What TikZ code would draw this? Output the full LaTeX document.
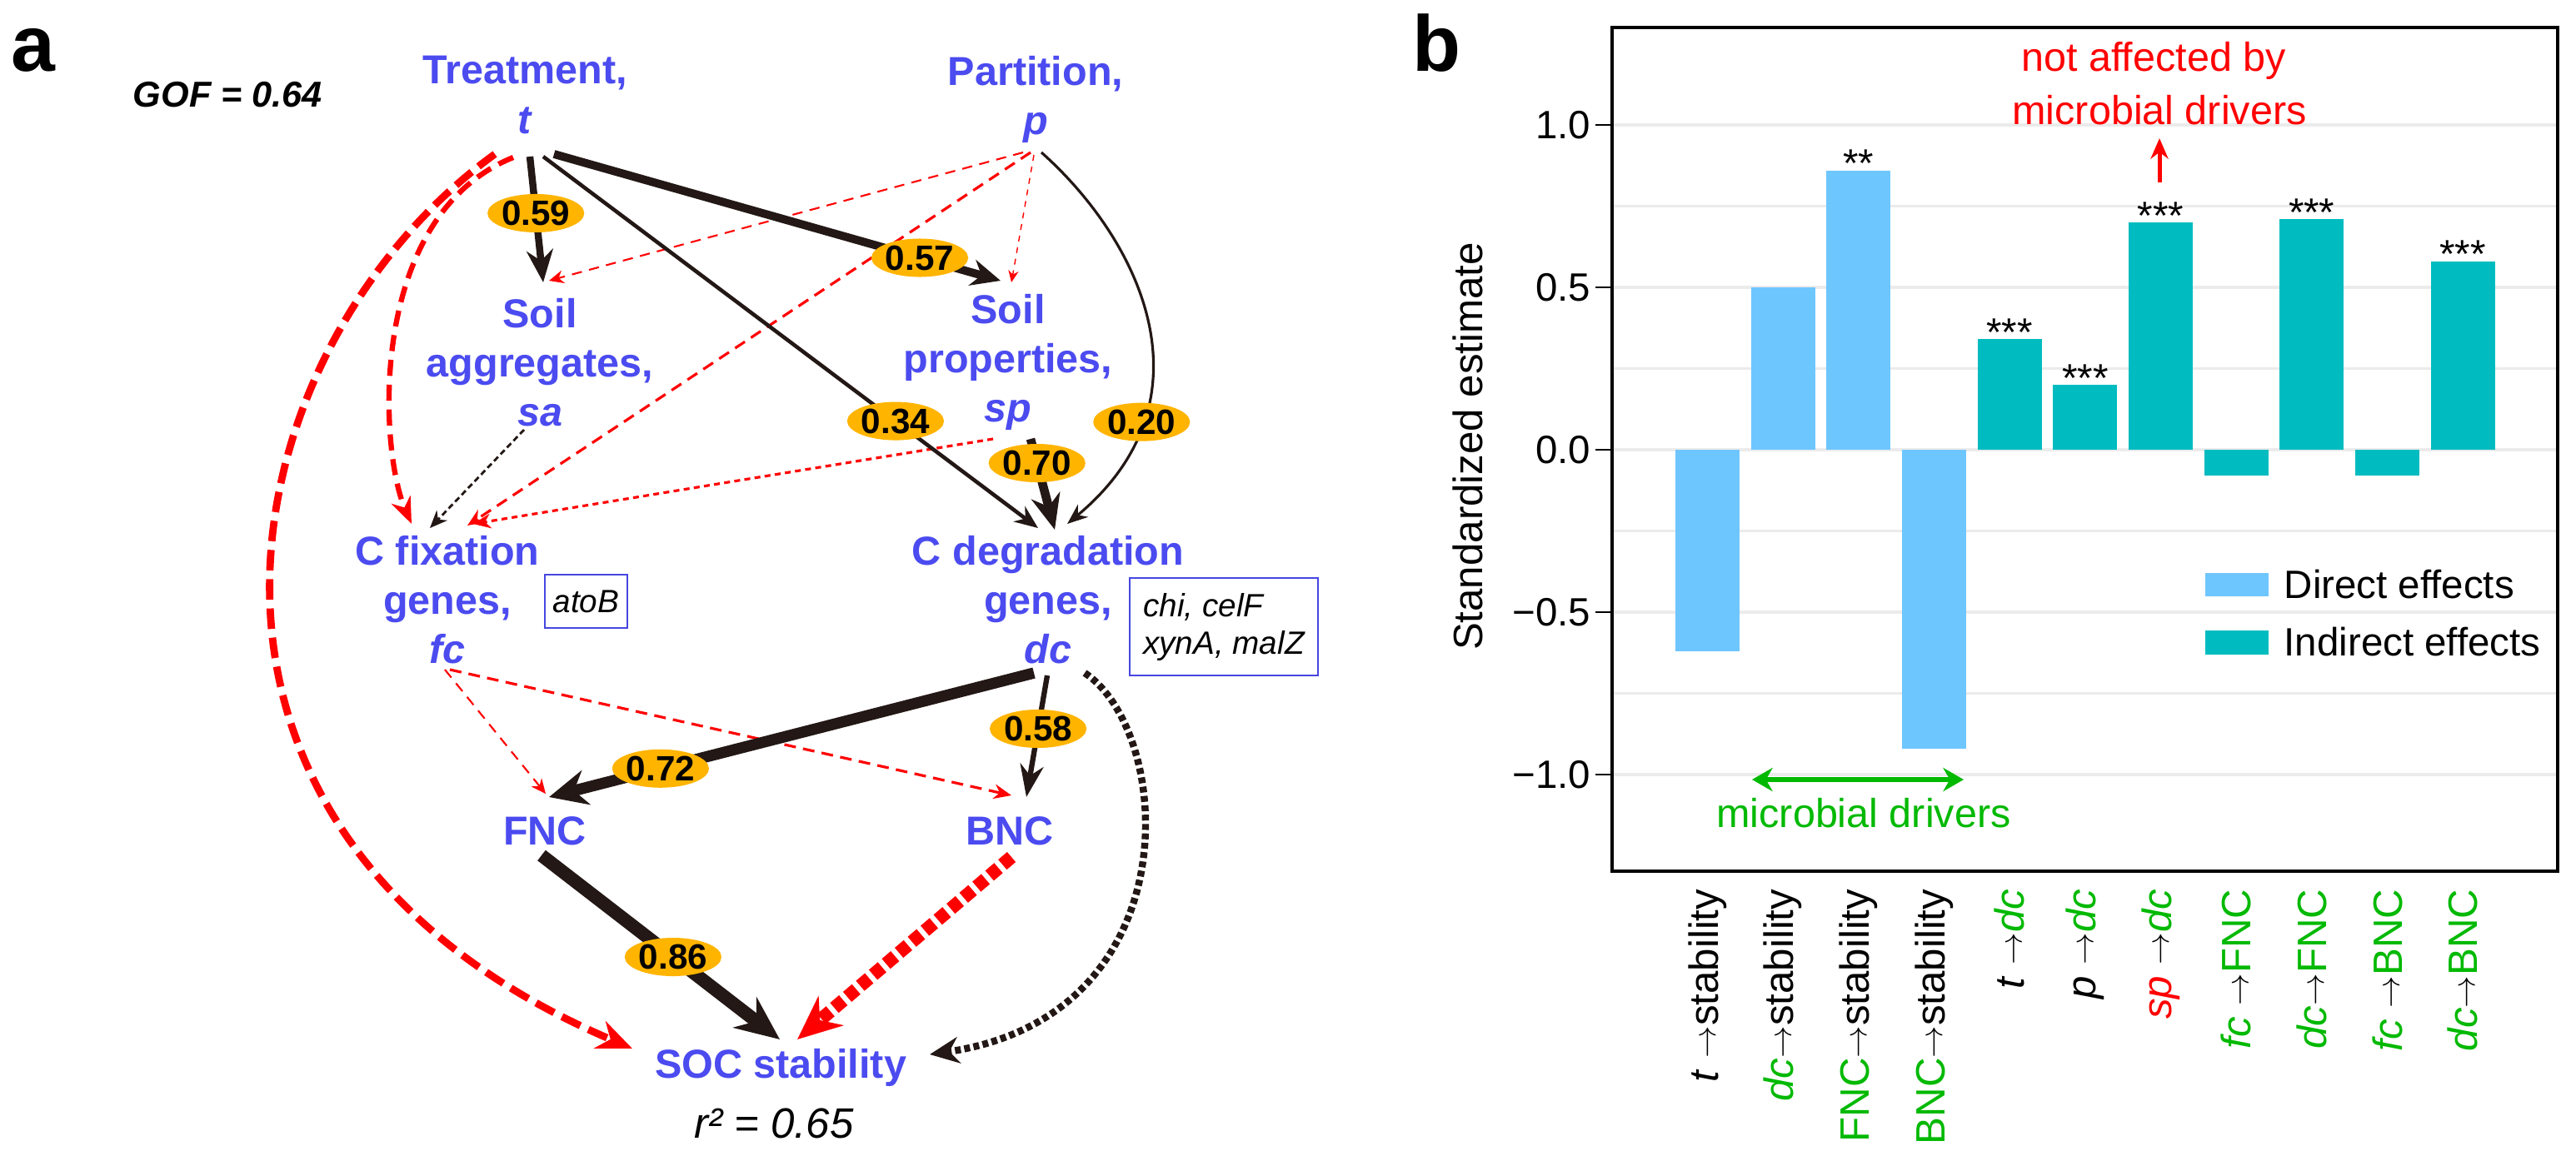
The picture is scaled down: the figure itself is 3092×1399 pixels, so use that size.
\documentclass[tikz,border=0pt]{standalone}
\usepackage{fontspec}
\setmainfont{Liberation Sans}
\usetikzlibrary{arrows.meta,shapes.geometric}
\definecolor{nodeblue}{RGB}{75,75,240}
\definecolor{boxblue}{RGB}{70,70,225}
\definecolor{ink}{RGB}{35,24,21}
\definecolor{ovalc}{RGB}{255,180,0}
\definecolor{dred}{RGB}{255,0,0}
\definecolor{lblue}{RGB}{110,198,255}
\definecolor{tealbar}{RGB}{0,188,192}
\definecolor{gridg}{RGB}{235,235,235}
\definecolor{lg}{RGB}{0,185,0}
\newcommand{\myarr}{\raisebox{0.9pt}{\fontsize{10.5}{10.5}\selectfont$\rightarrow$}}
\begin{document}
\begin{tikzpicture}[x=0.01cm,y=-0.01cm,
  lab/.style={text=nodeblue, font=\fontsize{13.8}{16.8}\selectfont\bfseries, align=center, inner sep=0},
  coef/.style={ellipse, fill=ovalc, minimum width=0.94cm, minimum height=0.46cm, inner sep=0, font=\fontsize{12}{12}\selectfont\bfseries},
  genebox/.style={draw=boxblue, line width=0.7pt, inner sep=0, font=\fontsize{11}{12.8}\selectfont\itshape},
  panel/.style={font=\fontsize{27}{27}\selectfont\bfseries, inner sep=0, anchor=base},
  bk/.style={draw=ink},
  rd/.style={draw=dred},
  xl/.style={rotate=90, anchor=east, inner sep=0, font=\fontsize{14}{14}\selectfont},
  bt/.style={font=\fontsize{13.5}{13.5}\selectfont}
]
\fill[white] (0,0) rectangle (3092,1399);
\useasboundingbox (0,0) rectangle (3092,1399);

% ---------------- panel a ----------------
\node[panel] (pa) at (40,85) {a};
\node[anchor=base west, inner sep=0, font=\fontsize{12.3}{12.3}\selectfont\bfseries\itshape] (gof) at (159,128) {GOF = 0.64};

\node[lab] (T) at (630,114) {Treatment,\\\textit{t}};
\node[lab] (P) at (1243,119) {Partition,\\\textit{p}};
\node[lab] (SA) at (648,435) {Soil\\aggregates,\\\textit{sa}};
\node[lab] (SP) at (1210,435) {Soil\\properties,\\\textit{sp}};
\node[lab] (FC) at (537,720) {C fixation\\genes,\\\textit{fc}};
\node[lab] (DC) at (1258,720) {C degradation\\genes,\\\textit{dc}};
\node[lab, anchor=base] (FNC) at (654,1014) {FNC};
\node[lab, anchor=base] (BNC) at (1212,1014) {BNC};
\node[lab, anchor=base] (SOC) at (937,1294) {SOC stability};
\node[anchor=base, inner sep=0, font=\fontsize{14.5}{14.5}\selectfont\itshape] (r2) at (929,1366) {r² = 0.65};

\node[genebox, minimum width=0.99cm, minimum height=0.64cm] (fcbox) at (703.5,722) {atoB};
\node[genebox, align=left, minimum width=2.26cm, minimum height=1.17cm] (dcbox) at (1469,752.5) {chi, celF\\xynA, malZ};

% ports
\coordinate (T-sa) at (636,188);  \coordinate (SA-t) at (652,339);
\coordinate (T-sp) at (665,185);  \coordinate (SP-t) at (1201,337);
\coordinate (T-dc) at (652,188);  \coordinate (DC-t) at (1246,634);
\coordinate (T-fc) at (616,189);  \coordinate (FC-t) at (494,629);
\coordinate (T-soc) at (594,185); \coordinate (SOC-t) at (759,1259);
\coordinate (P-sa) at (1228,183); \coordinate (SA-p) at (659,337);
\coordinate (P-fc) at (1237,183); \coordinate (FC-p) at (561,631);
\coordinate (P-sp) at (1241,186); \coordinate (SP-p) at (1214,339);
\coordinate (P-dc) at (1250,183); \coordinate (DC-p) at (1281,629);
\coordinate (SP-dc) at (1237,527); \coordinate (DC-sp) at (1266,636);
\coordinate (SP-fc) at (1192,527); \coordinate (FC-sp) at (568,629);
\coordinate (SA-fc) at (629,516); \coordinate (FC-sa) at (516,634);
\coordinate (FC-fnc) at (534,804); \coordinate (FNC-fc) at (655,953);
\coordinate (FC-bnc) at (540,804); \coordinate (BNC-fc) at (1214,955);
\coordinate (DC-fnc) at (1241,808); \coordinate (FNC-dc) at (659,957);
\coordinate (DC-bnc) at (1257,811); \coordinate (BNC-dc) at (1232,957);
\coordinate (DC-soc) at (1302,808); \coordinate (SOC-dc) at (1116,1266);
\coordinate (FNC-soc) at (650,1027); \coordinate (SOC-fnc) at (936,1248);
\coordinate (BNC-soc) at (1214,1029); \coordinate (SOC-bnc) at (957,1248);

% dashed (non-significant / negative) paths
\draw[rd, line width=2.5pt, dash pattern=on 7pt off 3pt, -{Stealth[length=12pt,width=10pt]}]
  (T-soc) .. controls (270,420) and (150,1000) .. (SOC-t);
\draw[rd, line width=1.8pt, dash pattern=on 5.5pt off 3pt, -{Stealth[length=9pt,width=7pt]}]
  (T-fc) .. controls (440,260) and (455,540) .. (FC-t);
\draw[rd, line width=0.6pt, dash pattern=on 3.5pt off 2.5pt, -{Stealth[length=5pt,width=4.5pt]}] (P-sa) -- (SA-p);
\draw[rd, line width=0.9pt, dash pattern=on 4pt off 2.5pt, -{Stealth[length=6pt,width=5pt]}] (P-fc) -- (FC-p);
\draw[rd, line width=0.4pt, dash pattern=on 2pt off 2pt, -{Stealth[length=4pt,width=3.5pt]}] (P-sp) -- (SP-p);
\draw[rd, line width=0.9pt, dash pattern=on 2pt off 1.5pt, -{Stealth[length=6pt,width=5pt]}] (SP-fc) -- (FC-sp);
\draw[bk, line width=0.8pt, dash pattern=on 2pt off 1.2pt, -{Stealth[length=6pt,width=5pt]}] (SA-fc) -- (FC-sa);
\draw[rd, line width=0.6pt, dash pattern=on 3.5pt off 2.5pt, -{Stealth[length=5pt,width=4.5pt]}] (FC-fnc) -- (FNC-fc);
\draw[rd, line width=0.9pt, dash pattern=on 4pt off 2.5pt, -{Stealth[length=6pt,width=5pt]}] (FC-bnc) -- (BNC-fc);
\draw[bk, line width=2.4pt, dash pattern=on 2pt off 1.2pt, -{Stealth[length=10pt,width=9pt]}]
  (DC-soc) .. controls (1410,880) and (1430,1220) .. (SOC-dc);
\draw[rd, line width=4.5pt, dash pattern=on 4pt off 1.8pt, -{Stealth[length=15pt,width=13pt]}] (BNC-soc) -- (SOC-bnc);

% solid (significant) paths with coefficients
\draw[bk, line width=2.4pt, -{Stealth[length=11pt,width=9pt]}] (T-sa) -- node[coef, pos=0.45] (c1) {0.59} (SA-t);
\draw[bk, line width=2.8pt, -{Stealth[length=10pt,width=9pt]}] (T-sp) -- node[coef, pos=0.819] (c2) {0.57} (SP-t);
\draw[bk, line width=1.3pt, -{Stealth[length=8pt,width=6.5pt]}] (T-dc) -- node[coef, pos=0.712] (c3) {0.34} (DC-t);
\draw[bk, line width=0.9pt, -{Stealth[length=7pt,width=5.5pt]}]
  (P-dc) .. controls (1370,290) and (1460,480) .. node[coef, pos=0.74] (c4) {0.20} (DC-p);
\draw[bk, line width=3pt, -{Stealth[length=12pt,width=10pt]}] (SP-dc) -- node[coef, pos=0.266] (c5) {0.70} (DC-sp);
\draw[bk, line width=3.8pt, -{Stealth[length=13pt,width=12pt]}] (DC-fnc) -- node[coef, pos=0.77] (c6) {0.72} (FNC-dc);
\draw[bk, line width=1.8pt, -{Stealth[length=11pt,width=8pt]}] (DC-bnc) -- node[coef, pos=0.438] (c7) {0.58} (BNC-dc);
\draw[bk, line width=4.5pt, -{Stealth[length=15pt,width=13pt]}] (FNC-soc) -- node[coef, pos=0.552] (c8) {0.86} (SOC-fnc);

% ---------------- panel b ----------------
\node[panel] (pb) at (1724,85) {b};
\foreach \v in {-1,-0.75,...,1.01} {
  \draw[gridg, line width=0.9pt] (1935,{540-390*\v}) -- (3070,{540-390*\v});
}
\foreach \i/\v/\c in {0/-0.62/lblue,1/0.50/lblue,2/0.86/lblue,3/-0.92/lblue,4/0.34/tealbar,5/0.20/tealbar,6/0.70/tealbar,7/-0.08/tealbar,8/0.71/tealbar,9/-0.08/tealbar,10/0.58/tealbar} {
  \fill[\c] ({2049.5+90.65*\i-38.5},540) rectangle ({2049.5+90.65*\i+38.5},{540-390*\v});
}
\draw[line width=0.9pt] (1935,33) rectangle (3070,1046);
\foreach \v/\l in {1/1.0,0.5/0.5,0/0.0,-0.5/−0.5,-1/−1.0} {
  \draw[line width=0.7pt] (1915,{540-390*\v}) -- (1935,{540-390*\v});
  \node[bt, anchor=east, inner sep=0] at (1910,{540-390*\v}) {\l};
}
\node[rotate=90, font=\fontsize{14}{14}\selectfont, inner sep=0] (ylab) at (1762,536) {Standardized estimate};

% significance stars
\foreach \i/\v/\s in {2/0.86/**,4/0.34/***,5/0.20/***,6/0.70/***,8/0.71/***,10/0.58/***} {
  \node[bt, anchor=base, inner sep=0] at ({2049.5+90.65*\i},{540-390*\v+8}) {\s};
}

% annotations
\node[bt, text=dred, font=\fontsize{13.8}{13.8}\selectfont, inner sep=0] (naff1) at (2585,73) {not affected by};
\node[bt, text=dred, font=\fontsize{13.8}{13.8}\selectfont, inner sep=0] (naff2) at (2592,132) {microbial drivers};
\coordinate (rarrS) at (2592,219); \coordinate (rarrE) at (2592,166);
\draw[dred, line width=1.4pt, -{Stealth[length=7pt,width=6pt]}] (rarrS) -- (rarrE);
\coordinate (garrL) at (2103,936); \coordinate (garrR) at (2357,936);
\draw[lg, line width=1.7pt, {Stealth[length=7pt,width=8pt]}-{Stealth[length=7pt,width=8pt]}] (garrL) -- (garrR);
\node[text=lg, font=\fontsize{13.8}{13.8}\selectfont, inner sep=0] (mdrv) at (2237,976) {microbial drivers};

% legend
\fill[lblue] (2647,688) rectangle (2723,716);
\node[bt, anchor=west, inner sep=0] (lg1) at (2741,702) {Direct effects};
\fill[tealbar] (2647,757) rectangle (2723,786);
\node[bt, anchor=west, inner sep=0] (lg2) at (2741,771) {Indirect effects};

% x labels
\node[xl] at (2049.5,1067) {\textit{t} \myarr{}stability};
\node[xl] at (2140.2,1067) {\textcolor{lg}{\textit{dc}}\myarr{}stability};
\node[xl] at (2230.8,1067) {\textcolor{lg}{FNC}\myarr{}stability};
\node[xl] at (2321.5,1067) {\textcolor{lg}{BNC}\myarr{}stability};
\node[xl] at (2412.1,1067) {\textit{t} \myarr\textcolor{lg}{\textit{dc}}};
\node[xl] at (2502.8,1067) {\textit{p} \myarr\textcolor{lg}{\textit{dc}}};
\node[xl] at (2593.4,1067) {\textcolor{dred}{\textit{sp}} \myarr\textcolor{lg}{\textit{dc}}};
\node[xl] at (2684.1,1067) {\textcolor{lg}{\textit{fc}} \myarr\textcolor{lg}{FNC}};
\node[xl] at (2774.7,1067) {\textcolor{lg}{\textit{dc}}\myarr\textcolor{lg}{FNC}};
\node[xl] at (2865.4,1067) {\textcolor{lg}{\textit{fc}} \myarr\textcolor{lg}{BNC}};
\node[xl] at (2956.0,1067) {\textcolor{lg}{\textit{dc}}\myarr\textcolor{lg}{BNC}};
\end{tikzpicture}
\end{document}
